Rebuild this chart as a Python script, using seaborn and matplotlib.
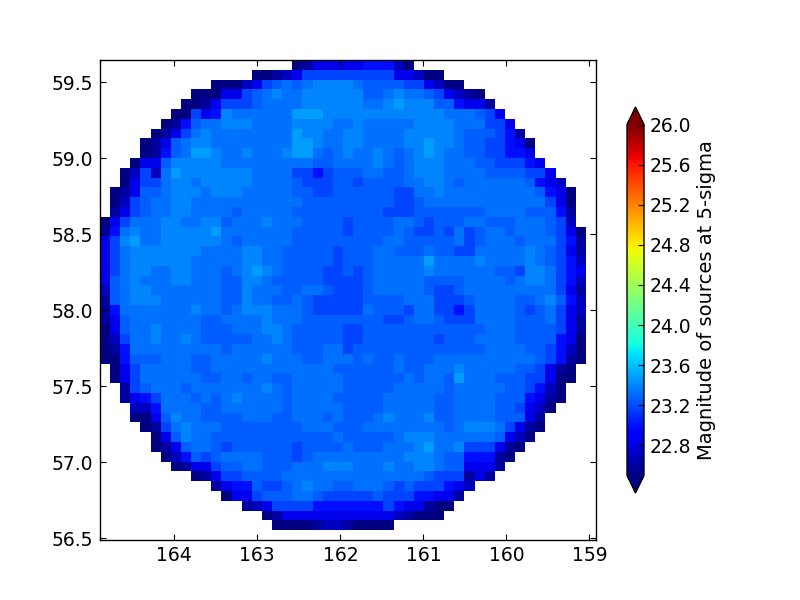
import numpy as np
import pandas as pd
import matplotlib
matplotlib.use("Agg")
import matplotlib.pyplot as plt
import seaborn as sns

# Each digit in row_codes indexes a magnitude in code_levels; rows run north to south.
code_levels = [22.5, 22.6, 22.7, 22.83, 22.98, 23.17, 23.26, 23.33, 23.39, 23.48]
row_start = [19, 15, 11, 9, 8, 7, 6, 5, 4, 4, 3, 2, 2, 1, 1, 1, 0, 0, 0, 0, 0, 0, 0, 0,
             0, 0, 0, 0, 0, 0, 0, 1, 1, 2, 2, 3, 3, 4, 5, 5, 6, 7, 9, 11, 12, 14, 16, 17]
row_codes = [
    "013333344420",
    "0012355555555533200",
    "0002356767888876666553200",
    "00033567877888888667877653210",
    "00135556777788888" "87789888664331",
    "005348777777999888" "888888888777653",
    "0146778887777888877" "8777778888777553",
    "01357877777777988778" "87777888887666541",
    "013678877777777998778" "877778898876655430",
    "014679987787778997678" "778767898776655443",
    "0336888887777777776677" "7787678887776655543",
    "02527988888887777554566" "67766788877776666553",
    "03557887888887777655566" "566667788767777776432",
    "013667888788877777665566" "6666557787777777776430",
    "025677887777777777766666" "6666556777777777777530",
    "135677887777677777666666" "6665556666666777766641",
    "0357778877886777877766665" "6666776566677666777652",
    "1478778888897777777666665" "66667655657567767776530",
    "3589778888887677777666666" "66677666667567776777541",
    "3578888888777788776666656" "66776667665577777876531",
    "3578888887777788776666656" "66777779777787777876542",
    "3578877887776789876666556" "56777778777777665887543",
    "3678777887776688766666555" "56777776666777767887542",
    "2678877777776687776677655" "56777776556777777777531",
    "1678887777776687766765555" "56666777555677776678642",
    "1477777778776788877765555" "57666577554577776567532",
    "1367777777667777877766666" "66655677655577776667531",
    "0367787777666777887666665" "56666666666667776666531",
    "0257787787666667787666665" "56666666566677776666430",
    "0147777777776777777666775" "66666666666667777665420",
    "0046667776677777877766777" "67667666777777777765410",
    "035777776677777777777766" "6666766777877777665310",
    "035777777667767766777776" "6666676776977766655300",
    "15677767777777876777776" "666677777677777665420",
    "13457776767877776777766" "666777776677776664310",
    "2247777667777776777776" "66677777667777665320",
    "0036877666677766777676" "6678777866777766631",
    "015787776666666677766" "6777777776788875310",
    "03687766666666666676" "666678887777776320",
    "01367765666666566667" "66677789778555310",
    "0246567777666567777" "7777788876644410",
    "013356677666777888" "777877887663331",
    "0135566667777777" "77777776555131",
    "13446556787766" "777656555432",
    "0335666776555" "55655544331",
    "12355554444" "4445433100",
    "013333333333321000",
    "000012210000",
]
n_cells = 49

ra_left, ra_right = 164.895, 158.92
dec_top, dec_bottom = 59.647, 56.49
ra_ticks = [164, 163, 162, 161, 160, 159]
dec_ticks = [59.5, 59.0, 58.5, 58.0, 57.5, 57.0, 56.5]
cbar_ticks = [22.8, 23.2, 23.6, 24.0, 24.4, 24.8, 25.2, 25.6, 26.0]

grid = np.full((n_cells, n_cells), np.nan)
for r, (start, codes) in enumerate(zip(row_start, row_codes)):
    vals = [code_levels[int(c)] for c in codes]
    grid[r, start:start + len(vals)] = vals
frame = pd.DataFrame(grid)

plt.rcParams["font.family"] = "DejaVu Sans"
plt.rcParams["font.size"] = 14

fig = plt.figure(figsize=(8, 6), dpi=100, facecolor="white")
ax = fig.add_axes([100 / 800, 60 / 600, 496 / 800, 480 / 600])
cax = fig.add_axes([627 / 800, 107 / 600, 17 / 800, 386 / 600])

sns.heatmap(frame, ax=ax, cmap="jet", vmin=22.5, vmax=26.0, cbar_ax=cax,
            xticklabels=False, yticklabels=False,
            cbar_kws={"extend": "both", "ticks": cbar_ticks})

for s in ax.spines.values():
    s.set_visible(True)
    s.set_color("black")
    s.set_linewidth(1)

ax.set_xticks([(ra_left - t) / (ra_left - ra_right) * n_cells for t in ra_ticks])
ax.set_xticklabels([str(t) for t in ra_ticks])
ax.set_yticks([(dec_top - t) / (dec_top - dec_bottom) * n_cells for t in dec_ticks])
ax.set_yticklabels([f"{t:.1f}" for t in dec_ticks], rotation=0)
ax.tick_params(direction="in", length=4, width=0.8, top=True, right=True,
               bottom=True, left=True, labelsize=13.5, color="black")
ax.tick_params(axis="x", pad=4)
ax.tick_params(axis="y", pad=5)

cbar = ax.collections[0].colorbar
cbar.set_ticklabels([f"{t:.1f}" for t in cbar_ticks])
cbar.ax.tick_params(direction="in", length=4, width=0.8, right=True, labelsize=13.5,
                    pad=4, color="black")
cbar.set_label("Magnitude of sources at 5-sigma", fontsize=14, labelpad=4)
cbar.outline.set_edgecolor("black")
cbar.outline.set_linewidth(1)

fig.savefig("out.png", dpi=100)
